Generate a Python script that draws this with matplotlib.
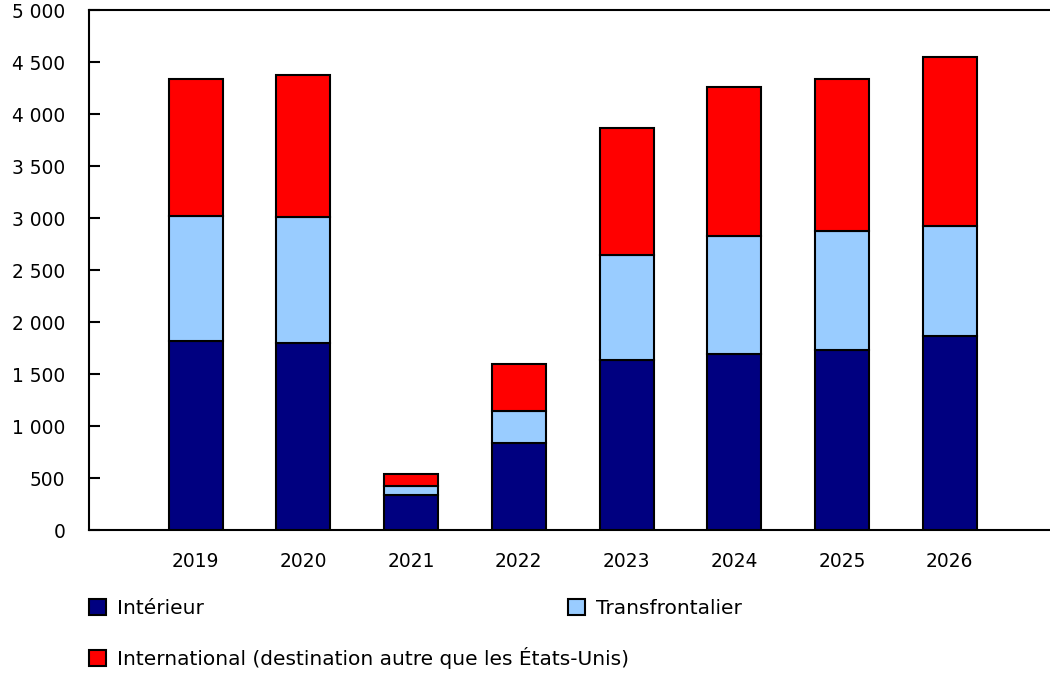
import numpy as np
import matplotlib
matplotlib.use('Agg')
import matplotlib.pyplot as plt
from matplotlib.ticker import FuncFormatter

years = ['2019', '2020', '2021', '2022', '2023', '2024', '2025', '2026']
interieur = [1817, 1795, 337, 834, 1637, 1689, 1734, 1868]
transfrontalier = [1205, 1212, 83, 313, 1004, 1138, 1141, 1058]
international = [1315, 1368, 118, 446, 1224, 1435, 1458, 1625]

labels = ['Intérieur', 'Transfrontalier',
          'International (destination autre que les États-Unis)']
colors = ['#000080', '#99ccff', '#ff0000']

plt.rcParams['font.family'] = ['DejaVu Sans']
fs = 13.4
fs_leg = 14.5

fig = plt.figure(figsize=(10.5, 6.75), dpi=100)
ax = fig.add_axes([89 / 1050, 1 - 530 / 675, 1 - 89 / 1050, 520 / 675])

x = np.arange(len(years))
bottom = np.zeros(len(years))
bars = []
for vals, col, lab in zip([interieur, transfrontalier, international], colors, labels):
    b = ax.bar(x, vals, 0.5, bottom=bottom, color=col, edgecolor='black',
               linewidth=1.5, label=lab, zorder=3)
    bars.append(b)
    bottom += np.array(vals)

ax.set_xlim(-0.99, 7.93)
ax.set_ylim(0, 5000)
ax.set_yticks(np.arange(0, 5001, 500))
ax.yaxis.set_major_formatter(FuncFormatter(lambda v, p: f'{int(v):,}'.replace(',', ' ')))
ax.set_xticks(x)
ax.set_xticklabels(years)
ax.tick_params(axis='x', length=0, pad=16, labelsize=fs)
ax.tick_params(axis='y', direction='in', length=8, width=1.5, pad=17, labelsize=fs)
ax.spines['right'].set_visible(False)
for s in ['left', 'top', 'bottom']:
    ax.spines[s].set_linewidth(1.5)

leg_kw = dict(frameon=False, fontsize=fs_leg, handlelength=0.85, handleheight=0.85,
              handletextpad=0.55, borderpad=0, borderaxespad=0, labelspacing=1.45)
leg1 = fig.legend([bars[0], bars[2]], [labels[0], labels[2]], loc='upper left',
                  bbox_to_anchor=(89 / 1050, 1 - 599 / 675), **leg_kw)
leg2 = fig.legend([bars[1]], [labels[1]], loc='upper left',
                  bbox_to_anchor=(568 / 1050, 1 - 599 / 675), **leg_kw)

fig.savefig('out.png', dpi=100)
